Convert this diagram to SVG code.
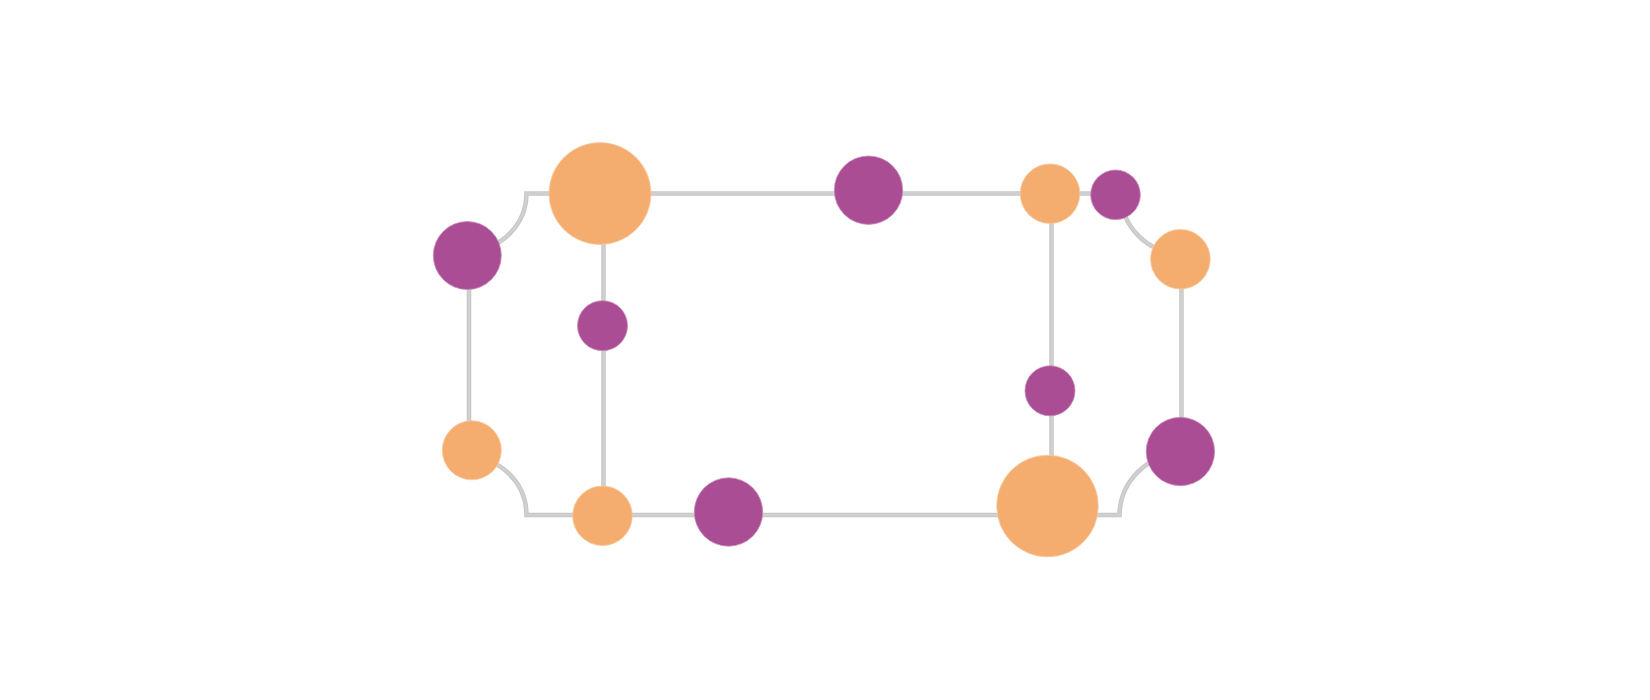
<svg xmlns="http://www.w3.org/2000/svg" width="1650" height="700" viewBox="0 0 1650 700">
  <style>
    .edge-o { fill: none; stroke: #c6c6c6; stroke-width: 4.5; }
    .edge-i { fill: none; stroke: #d0d0d0; stroke-width: 2.5; }
    .orange { fill: #f5ad6f; stroke: #f8c9a0; stroke-width: 0.8; }
    .purple { fill: #aa4d94; stroke: #c58ab7; stroke-width: 0.8; }
  </style>
  <rect width="1650" height="700" fill="#ffffff"/>
  <defs>
    <path id="outline" d="M 526.5 193.5 H 1121 A 60 60 0 0 0 1181.5 253.5 V 454 A 62 62 0 0 0 1119.5 515 H 526.5 A 57.5 57.5 0 0 0 469 457.5 V 250.5 A 57.5 57.5 0 0 0 526.5 193.5 Z"/>
    <path id="inner" d="M 603.5 193.5 V 515 M 1051.5 193.5 V 515"/>
  </defs>
  <g id="connectors">
    <use href="#outline" class="edge-o"/>
    <use href="#inner" class="edge-o"/>
    <use href="#outline" class="edge-i"/>
    <use href="#inner" class="edge-i"/>
  </g>
  <g id="n1"><circle class="orange" cx="600" cy="193.5" r="51"/></g>
  <g id="n2"><circle class="purple" cx="467.3" cy="255.5" r="34"/></g>
  <g id="n3"><circle class="purple" cx="602.5" cy="325.7" r="25"/></g>
  <g id="n4"><circle class="orange" cx="471.8" cy="450.3" r="29.5"/></g>
  <g id="n5"><circle class="orange" cx="602.5" cy="515.8" r="29.8"/></g>
  <g id="n6"><circle class="purple" cx="728.5" cy="512" r="34.2"/></g>
  <g id="n7"><circle class="purple" cx="868.5" cy="190.2" r="34.2"/></g>
  <g id="n8"><circle class="orange" cx="1050" cy="193.7" r="29.8"/></g>
  <g id="n9"><circle class="purple" cx="1115.5" cy="194.8" r="24.8"/></g>
  <g id="n10"><circle class="orange" cx="1180.4" cy="259.2" r="29.8"/></g>
  <g id="n11"><circle class="purple" cx="1050" cy="390.8" r="25"/></g>
  <g id="n12"><circle class="purple" cx="1180.4" cy="451.5" r="34.2"/></g>
  <g id="n13"><circle class="orange" cx="1047.5" cy="506" r="50.8"/></g>
</svg>
